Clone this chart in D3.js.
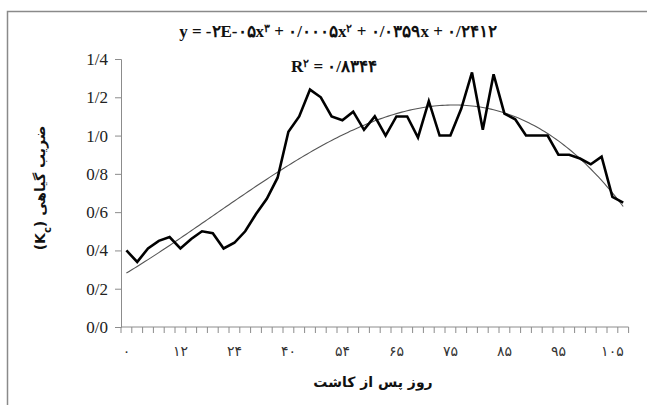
<!DOCTYPE html>
<html><head><meta charset="utf-8">
<script src="https://cdn.jsdelivr.net/npm/d3@7"></script>
<style>html,body{margin:0;padding:0;background:#fff;overflow:hidden}</style>
</head><body>
<svg id="c" width="647" height="405"></svg>
<script>
const days = [0,2,5,7,10,12,14,17,19,22,24,27,30,33,37,40,43,46,49,52,54,56,58,60,63,65,67,69,71,73,75,77,79,81,83,85,87,89,91,93,95,97,99,101,103,105,107];
const kc = [0.40,0.34,0.41,0.45,0.47,0.41,0.46,0.50,0.49,0.41,0.44,0.50,0.59,0.67,0.78,1.02,1.10,1.24,1.20,1.10,1.08,1.125,1.03,1.10,1.00,1.10,1.10,0.99,1.18,1.00,1.00,1.14,1.33,1.03,1.32,1.115,1.085,1.00,1.00,1.00,0.90,0.90,0.88,0.85,0.89,0.68,0.65];
const yTicks = [0,0.2,0.4,0.6,0.8,1.0,1.2,1.4];
const labelEvery = 5;
const equationParts = [["y = -۲E-۰۵x",""],["۳","sup"],[" + ۰/۰۰۰۵x",""],["۲","sup"],[" + ۰/۰۳۵۹x + ۰/۲۴۱۲",""]];
const r2Parts = [["R",""],["۲","sup"],[" = ۰/۸۳۴۴",""]];
const xTitle = "روز پس از کاشت";
const yTitle = "ضریب گیاهی";
const toFa = n => String(n).replace(/\d/g, d => "۰۱۲۳۴۵۶۷۸۹"[d]);

const svg = d3.select("#c");
const L = 121, R = 628.6, T = 59, B = 327;
svg.append("rect").attr("x",7.5).attr("y",11.5).attr("width",700).attr("height",500)
  .attr("fill","#fff").attr("stroke","#8a8a8a").attr("stroke-width",1.5);

const cats = days.map(String);
const x = d3.scaleBand().domain(cats).range([L,R]).padding(0);
const y = d3.scaleLinear().domain([0,1.4]).range([B,T]);
const cx = i => x(cats[i]) + x.bandwidth()/2;
const axisCol = "#8c8c8c";

// y axis
const ya = svg.append("g").attr("transform",`translate(${L},0)`)
  .call(d3.axisLeft(y).tickValues(yTicks).tickSize(6).tickPadding(7)
    .tickFormat(d => d3.format(".1f")(d).replace(".","/")));
ya.select(".domain").attr("stroke",axisCol);
ya.selectAll(".tick line").attr("stroke",axisCol);
ya.selectAll(".tick text").attr("font-family","Liberation Serif").attr("font-size",17).attr("fill","#222");

// x axis line and boundary ticks
svg.append("line").attr("x1",L).attr("x2",R).attr("y1",B).attr("y2",B).attr("stroke",axisCol);
const bounds = d3.range(cats.length+1).map(i => i===cats.length ? R : x(cats[i]));
svg.append("g").selectAll("line").data(bounds).join("line")
  .attr("x1",d=>d).attr("x2",d=>d).attr("y1",B).attr("y2",B+6).attr("stroke",axisCol);
const xa = svg.append("g").attr("transform",`translate(0,${B})`)
  .call(d3.axisBottom(x).tickValues(cats.filter((c,i)=>i%labelEvery===0)).tickSize(0).tickPadding(19)
    .tickFormat(d => toFa(d)));
xa.select(".domain").remove();
xa.selectAll(".tick text").attr("font-family","DejaVu Sans").attr("font-size",14).attr("fill","#333");

// cubic least-squares trend on index 1..n
function polyfit(xs, ys, deg){
  const m = deg+1;
  const A = Array.from({length:m},()=>new Array(m+1).fill(0));
  xs.forEach((xv,k)=>{
    for(let r=0;r<m;r++){
      for(let c=0;c<m;c++) A[r][c]+=Math.pow(xv,r+c);
      A[r][m]+=ys[k]*Math.pow(xv,r);
    }
  });
  for(let p=0;p<m;p++){
    let mx=p; for(let r=p+1;r<m;r++) if(Math.abs(A[r][p])>Math.abs(A[mx][p])) mx=r;
    [A[p],A[mx]]=[A[mx],A[p]];
    for(let r=0;r<m;r++){ if(r===p) continue; const f=A[r][p]/A[p][p]; for(let c=p;c<=m;c++) A[r][c]-=f*A[p][c]; }
  }
  return A.map((row,i)=>row[m]/row[i]);
}
const idx = kc.map((_,i)=>i+1);
const coef = polyfit(idx, kc, 3);
const f = t => coef[0]+coef[1]*t+coef[2]*t*t+coef[3]*t*t*t;
const tx = d3.scaleLinear().domain([1,kc.length]).range([cx(0),cx(kc.length-1)]);
const samples = d3.range(1, kc.length+0.001, 0.25);
svg.append("path").datum(samples)
  .attr("d", d3.line().x(t=>tx(t)).y(t=>y(f(t))).curve(d3.curveLinear))
  .attr("fill","none").attr("stroke","#555").attr("stroke-width",1.1);

// data line
svg.append("path").datum(kc)
  .attr("d", d3.line().x((d,i)=>cx(i)).y(d=>y(d)))
  .attr("fill","none").attr("stroke","#000").attr("stroke-width",2.6).attr("stroke-linejoin","miter");

// equation and R2
function richText(parts, xPos, yPos, size){
  const t = svg.append("text").attr("x",xPos).attr("y",yPos).attr("text-anchor","middle")
    .attr("direction","ltr").attr("font-family","Liberation Serif").attr("font-weight","bold")
    .attr("font-size",size).attr("fill","#111");
  parts.forEach(([s,k])=>{
    const ts = t.append("tspan").text(s);
    if(k==="sup") ts.attr("font-size",size*0.62).attr("baseline-shift","super");
  });
  return t;
}
richText(equationParts, 338, 37, 17);
richText(r2Parts, 334, 72, 17);

// axis titles
svg.append("text").attr("x",373).attr("y",387).attr("text-anchor","middle")
  .attr("font-family","DejaVu Sans").attr("font-weight","bold").attr("font-size",14).attr("fill","#111")
  .attr("direction","rtl").text(xTitle);
const yt = svg.append("text").attr("transform","translate(45,188) rotate(-90)").attr("text-anchor","middle")
  .attr("font-family","DejaVu Sans").attr("font-weight","bold").attr("font-size",14).attr("fill","#111")
  .attr("direction","rtl");
yt.append("tspan").text(yTitle + " (K");
yt.append("tspan").text("c").attr("font-size",10).attr("baseline-shift","sub");
yt.append("tspan").text(")");
</script>
</body></html>
